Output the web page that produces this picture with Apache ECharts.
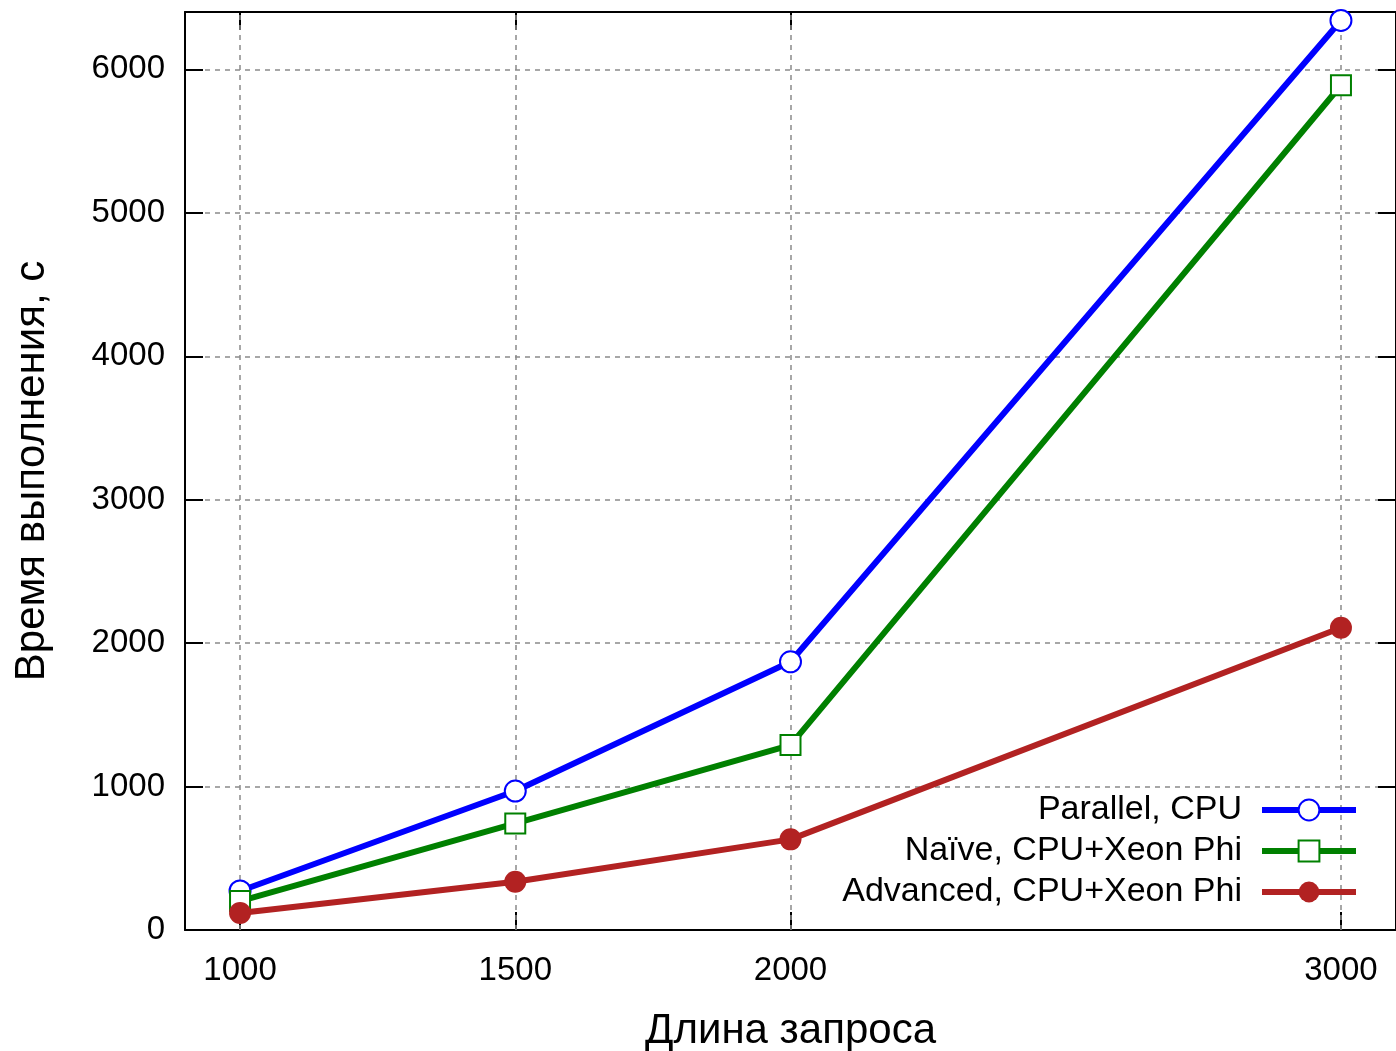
<!DOCTYPE html>
<html>
<head>
<meta charset="utf-8">
<script src="https://cdn.jsdelivr.net/npm/echarts@6/dist/echarts.min.js"></script>
<style>html,body{margin:0;padding:0;background:#fff}#c{width:1396px;height:1051px}</style>
</head>
<body>
<div id="c"></div>
<script>
const queryLengths = [1000, 1500, 2000, 3000];
const parallelCPU = [272, 969, 1870, 6341];
const naiveXeon = [202, 743, 1289, 5889];
const advancedXeon = [118, 337, 632, 2107];
const seriesNames = ['Parallel, CPU', 'Naïve, CPU+Xeon Phi', 'Advanced, CPU+Xeon Phi'];
const xTicks = [1000, 1500, 2000, 3000];
const xTitle = 'Длина запроса';
const yTitle = 'Время выполнения, с';

const FONT = 'Liberation Sans, Arial, sans-serif';
const chart = echarts.init(document.getElementById('c'));
const pair = (vals) => queryLengths.map((x, i) => [x, vals[i]]);
const gridDash = { type: [5, 5], color: '#8a8a8a', width: 1.5 };
const plain = (v) => String(v);

function legendFor(name, top) {
  return {
    data: [name], right: 37, top: top, orient: 'vertical', align: 'right',
    padding: 0, itemWidth: 94, itemHeight: 26, selectedMode: false,
    lineStyle: { width: 6 },
    textStyle: { fontFamily: FONT, fontSize: 34, color: '#000', padding: [0, 15, 0, 0] }
  };
}

chart.setOption({
  animation: false,
  backgroundColor: '#fff',
  grid: { left: 185, right: 0, top: 12, bottom: 121, containLabel: false, outerBoundsMode: 'none' },
  legend: [legendFor(seriesNames[0], 793), legendFor(seriesNames[1], 834), legendFor(seriesNames[2], 875)],
  xAxis: [{
    type: 'value', min: 900, max: 3100, position: 'bottom',
    name: xTitle, nameLocation: 'middle', nameGap: 80,
    nameTextStyle: { fontFamily: FONT, fontSize: 42, color: '#000' },
    axisLine: { show: true, onZero: false, lineStyle: { color: '#000', width: 2 } },
    axisTick: { show: true, inside: true, length: 18, customValues: xTicks, lineStyle: { color: '#000', width: 2 } },
    axisLabel: { customValues: xTicks, formatter: plain, fontFamily: FONT, fontSize: 33, color: '#000', margin: 24 },
    splitLine: { show: false }
  }, {
    type: 'value', min: 900, max: 3100, position: 'top',
    axisLine: { show: true, onZero: false, lineStyle: { color: '#000', width: 2 } },
    axisTick: { show: true, inside: true, length: 18, customValues: xTicks, lineStyle: { color: '#000', width: 2 } },
    axisLabel: { show: false },
    splitLine: { show: false }
  }],
  yAxis: [{
    type: 'value', min: 0, max: 6400, interval: 1000, position: 'left',
    name: yTitle, nameLocation: 'middle', nameGap: 132,
    nameTextStyle: { fontFamily: FONT, fontSize: 42, color: '#000' },
    axisLine: { show: true, onZero: false, lineStyle: { color: '#000', width: 2 } },
    axisTick: { show: true, inside: true, length: 18, lineStyle: { color: '#000', width: 2 } },
    axisLabel: { formatter: plain, fontFamily: FONT, fontSize: 33, color: '#000', margin: 20, showMaxLabel: false },
    splitLine: { show: true, lineStyle: gridDash }
  }, {
    type: 'value', min: 0, max: 6400, interval: 1000, position: 'right',
    axisLine: { show: true, onZero: false, lineStyle: { color: '#000', width: 2 } },
    axisTick: { show: true, inside: true, length: 18, lineStyle: { color: '#000', width: 2 } },
    axisLabel: { show: false },
    splitLine: { show: false }
  }],
  series: [{
    name: seriesNames[0], type: 'line', data: pair(parallelCPU),
    symbol: 'circle', symbolSize: 21, z: 3,
    lineStyle: { color: '#0000ff', width: 6 },
    itemStyle: { color: '#fff', borderColor: '#0000ff', borderWidth: 2 },
    markLine: {
      silent: true, symbol: 'none', label: { show: false },
      lineStyle: gridDash, z: 1,
      data: xTicks.map(v => ({ xAxis: v }))
    }
  }, {
    name: seriesNames[1], type: 'line', data: pair(naiveXeon),
    symbol: 'rect', symbolSize: 20, z: 4,
    lineStyle: { color: '#008000', width: 6 },
    itemStyle: { color: '#fff', borderColor: '#008000', borderWidth: 2 }
  }, {
    name: seriesNames[2], type: 'line', data: pair(advancedXeon),
    symbol: 'circle', symbolSize: 22, z: 5,
    lineStyle: { color: '#b22222', width: 6 },
    itemStyle: { color: '#b22222', borderColor: '#b22222', borderWidth: 0 }
  }]
});
</script>
</body>
</html>
